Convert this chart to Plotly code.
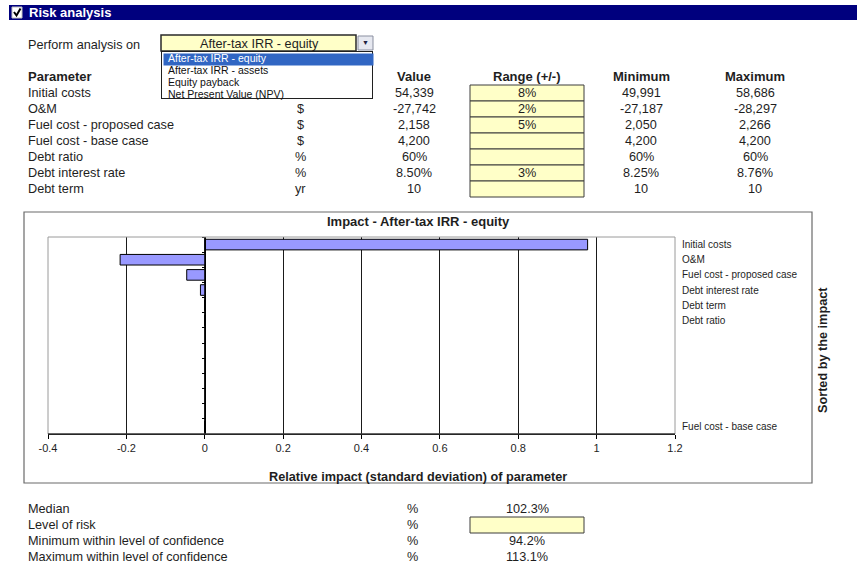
"""Risk analysis sheet: parameter table plus tornado-style impact chart."""

import plotly.graph_objects as go

# ---- data -------------------------------------------------------------
analysis_options = ["After-tax IRR - equity", "After-tax IRR - assets",
                    "Equity payback", "Net Present Value (NPV)"]
selected_option = 0

params = ["Initial costs", "O&M", "Fuel cost - proposed case", "Fuel cost - base case",
          "Debt ratio", "Debt interest rate", "Debt term"]
units = ["$", "$", "$", "$", "%", "%", "yr"]
values = ["54,339", "-27,742", "2,158", "4,200", "60%", "8.50%", "10"]
ranges = ["8%", "2%", "5%", "", "", "3%", ""]
minimums = ["49,991", "-27,187", "2,050", "4,200", "60%", "8.25%", "10"]
maximums = ["58,686", "-28,297", "2,266", "4,200", "60%", "8.76%", "10"]

# parameters sorted by impact (last one has no range -> pushed to the bottom slot)
sorted_params = ["Initial costs", "O&M", "Fuel cost - proposed case", "Debt interest rate",
                 "Debt term", "Debt ratio", "Fuel cost - base case"]
impacts = [0.977, -0.216, -0.046, -0.011, 0.0, 0.0, 0.0]
n_slots = 13

x_ticks = [-0.4, -0.2, 0, 0.2, 0.4, 0.6, 0.8, 1.0, 1.2]
x_tick_labels = ["-0.4", "-0.2", "0", "0.2", "0.4", "0.6", "0.8", "1", "1.2"]

result_labels = ["Median", "Level of risk", "Minimum within level of confidence",
                 "Maximum within level of confidence"]
result_units = ["%", "%", "%", "%"]
result_values = ["102.3%", "", "94.2%", "113.1%"]

# ---- styling ----------------------------------------------------------
W, H = 857, 568
FONT = "Liberation Sans, Arial, sans-serif"
TEXT = "#1e1e1e"
YELLOW = "#FFFFC8"
NAVY = "#00007E"
BAR = "#9999FF"
FS = 12.7


def px(x):
    return x / W


def py(y):
    return 1 - y / H


fig = go.Figure()


def text(x, y, s, size=FS, bold=False, anchor="center", color=TEXT, **kw):
    fig.add_annotation(
        x=px(x), y=py(y), xref="paper", yref="paper",
        text=f"<b>{s}</b>" if bold else s, showarrow=False,
        xanchor=anchor, yanchor="middle",
        font=dict(size=size, color=color, family=FONT), **kw,
    )


def box(x0, y0, x1, y1, fill, line="#404040", width=1, layer="above"):
    fig.add_shape(type="rect", xref="paper", yref="paper",
                  x0=px(x0), x1=px(x1), y0=py(y1), y1=py(y0),
                  fillcolor=fill, line=dict(color=line, width=width), layer=layer)


# ---- chart ------------------------------------------------------------
x_dom = [px(48), px(675)]
y_dom = [py(434), py(237)]
slots = list(range(len(sorted_params) - 1)) + [n_slots - 1]
zero_pos = x_dom[0] + (0 - x_ticks[0]) / (x_ticks[-1] - x_ticks[0]) * (x_dom[1] - x_dom[0])

fig.add_trace(go.Bar(
    x=impacts, y=slots, orientation="h", width=0.7,
    marker=dict(color=BAR, line=dict(color="#000", width=1)),
    showlegend=False, hoverinfo="skip",
))
fig.add_trace(go.Scatter(x=[], y=[], yaxis="y2", showlegend=False))

fig.update_layout(
    template="none",
    width=W, height=H,
    margin=dict(l=0, r=0, t=0, b=0, pad=0, autoexpand=False),
    paper_bgcolor="white", plot_bgcolor="white",
    font=dict(family=FONT, color=TEXT),
    xaxis=dict(
        domain=x_dom, range=[x_ticks[0], x_ticks[-1]], automargin=False,
        tickvals=x_ticks, ticktext=x_tick_labels,
        showgrid=True, gridcolor="#1a1a1a", gridwidth=1, zeroline=False,
        showline=True, linecolor="#000", linewidth=1,
        ticks="outside", ticklen=4, tickcolor="#000",
        tickfont=dict(size=11, color=TEXT), fixedrange=True,
    ),
    yaxis=dict(
        domain=y_dom, range=[n_slots - 0.5, -0.5], side="right", automargin=False,
        tickvals=slots, ticktext=sorted_params, ticks="", ticklabelstandoff=6,
        showgrid=False, zeroline=False, showline=False,
        tickfont=dict(size=10, color=TEXT), fixedrange=True,
    ),
    yaxis2=dict(
        overlaying="y", anchor="free", position=zero_pos, side="left", automargin=False,
        range=[n_slots - 0.5, -0.5],
        tickvals=[i - 0.5 for i in range(n_slots + 1)], showticklabels=False,
        ticks="outside", ticklen=3, tickcolor="#000",
        showline=True, linecolor="#000", linewidth=1,
        showgrid=False, zeroline=False, fixedrange=True,
    ),
)

# plot area border (grey) and outer chart frame
fig.add_shape(type="rect", xref="x domain", yref="y domain", x0=0, x1=1, y0=0, y1=1,
              line=dict(color="#9a9a9a", width=1), layer="above")
fig.add_shape(type="line", xref="x domain", yref="y domain", x0=0, x1=1, y0=0, y1=0,
              line=dict(color="#000", width=1), layer="above")
box(24, 212, 812, 483, "rgba(0,0,0,0)", line="#6a6a6a", width=1.2)

text(418, 221, "Impact - " + analysis_options[selected_option], size=13, bold=True)
text(418, 477, "Relative impact (standard deviation) of parameter", size=12.7, bold=True)
text(823, 350, "Sorted by the impact", size=12.7, bold=True, textangle=-90)

# ---- header bar -------------------------------------------------------
box(9, 5, W + 2, 20, NAVY, line=NAVY, width=0)
box(12, 7, 22, 18, "white", line="#c0c0c0", width=1)
fig.add_shape(type="path", xref="paper", yref="paper",
              path=f"M {px(14)} {py(12)} L {px(16.5)} {py(15.5)} L {px(20.5)} {py(8.5)}",
              line=dict(color="#000", width=2))
text(27, 12.5, "Risk analysis", size=13, bold=True, anchor="left", color="white")

# ---- parameter table --------------------------------------------------
text(26, 45, "Perform analysis on", anchor="left")

row_y = [93 + 16 * i for i in range(len(params))]
col_unit, col_val, col_rng, col_min, col_max = 300, 414, 527, 641, 755

text(26, 77, "Parameter", size=13, bold=True, anchor="left")
text(col_val, 77, "Value", size=13, bold=True)
text(col_rng, 77, "Range (+/-)", size=13, bold=True)
text(col_min, 77, "Minimum", size=13, bold=True)
text(col_max, 77, "Maximum", size=13, bold=True)

for i, y in enumerate(row_y):
    box(470, y - 8, 584, y + 8, YELLOW, line="#3c3c3c")
    text(26, y, params[i], anchor="left")
    text(col_unit, y, units[i])
    text(col_val, y, values[i])
    if ranges[i]:
        text(col_rng, y, ranges[i])
    text(col_min, y, minimums[i])
    text(col_max, y, maximums[i])

# ---- results table ----------------------------------------------------
res_y = [509 + 16 * i for i in range(len(result_labels))]
for i, y in enumerate(res_y):
    text(26, y, result_labels[i], anchor="left")
    text(412, y, result_units[i])
    if result_values[i]:
        text(527, y, result_values[i])
    else:
        box(470, y - 8, 584, y + 8, YELLOW, line="#3c3c3c")

# ---- dropdown (drawn last so it sits over the table) -------------------
box(161, 35, 356, 51, YELLOW, line="#2a2a2a", width=1.5)
text(259, 44, analysis_options[selected_option], anchor="center")
box(358, 36, 373, 50, "#E6E8F0", line="#8a8fa0", width=1)
text(365.5, 43, "▼", size=7, color="#202040")

fig.add_annotation(x=px(161), y=py(51), xref="paper", yref="paper", text=" ",
                   showarrow=False, xanchor="left", yanchor="top",
                   width=210, height=46, bgcolor="white", bordercolor="#202020",
                   borderwidth=1, borderpad=0)
fig.add_annotation(x=px(162.5), y=py(52.5), xref="paper", yref="paper", text=" ",
                   showarrow=False, xanchor="left", yanchor="top",
                   width=209, height=11, bgcolor="#3166C3", borderpad=0)
for i, opt in enumerate(analysis_options):
    text(166, 58 + 12 * i, opt, size=10.5, anchor="left",
         color="white" if i == selected_option else "#101010")

fig.write_html(
    "out.html",
    config={"displayModeBar": False, "responsive": False},
    post_script=(
        "document.body.style.margin='0';document.body.style.overflow='hidden';"
        "Plotly.relayout(document.getElementById('{plot_id}'), {width: %d, height: %d});" % (W, H)
    ),
)
